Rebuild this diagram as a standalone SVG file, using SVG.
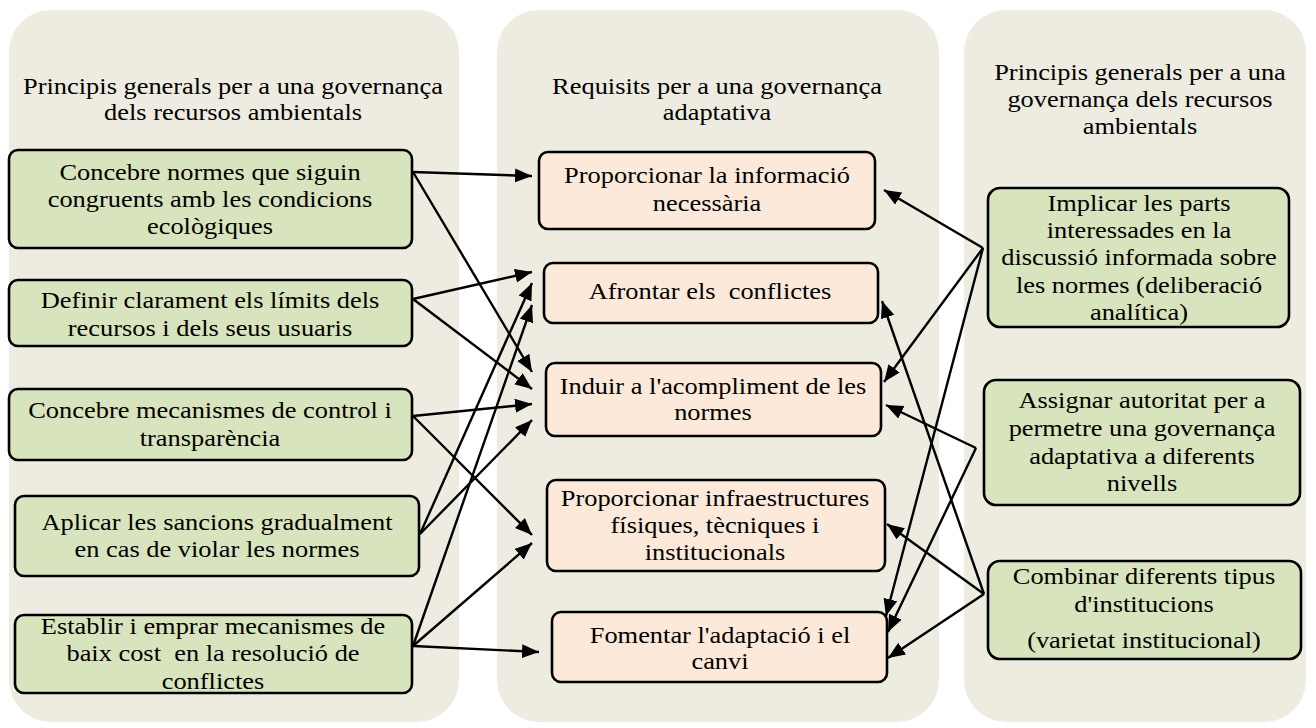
<svg xmlns="http://www.w3.org/2000/svg" width="1316" height="728" viewBox="0 0 1316 728" font-family="'Liberation Serif', serif">
<style>
.panel{fill:#EEECE1;stroke:none}
.g{fill:#D7E4BD;stroke:#000;stroke-width:2.6}
.p{fill:#FDE9D9;stroke:#000;stroke-width:2.6}
text{font-family:"Liberation Serif",serif;font-size:24px;fill:#000;text-anchor:middle}
.c line{stroke:#000;stroke-width:2.4;marker-end:url(#ah)}
</style>
<defs>
<marker id="ah" markerUnits="userSpaceOnUse" markerWidth="18" markerHeight="15" refX="17" refY="7" orient="auto">
<path d="M0,0 L17,7 L0,14 z" fill="#000"/>
</marker>
</defs>
<rect width="1316" height="728" fill="#fff"/>
<g id="panel-left"><rect class="panel" x="9" y="10" width="450" height="712" rx="42"/>
<text transform="translate(233 0) scale(1.1 1)" y="94">Principis generals per a una governança</text>
<text transform="translate(233 0) scale(1.1 1)" y="120">dels recursos ambientals</text></g>
<g id="panel-mid"><rect class="panel" x="497" y="10" width="442" height="712" rx="42"/>
<text transform="translate(717 0) scale(1.1 1)" y="94">Requisits per a una governança</text>
<text transform="translate(717 0) scale(1.1 1)" y="120">adaptativa</text></g>
<g id="panel-right"><rect class="panel" x="964" y="10" width="342" height="712" rx="42"/>
<text transform="translate(1140 0) scale(1.1 1)" y="80">Principis generals per a una</text>
<text transform="translate(1140 0) scale(1.1 1)" y="107">governança dels recursos</text>
<text transform="translate(1140 0) scale(1.1 1)" y="134">ambientals</text></g>

<g id="L1"><rect class="g" x="9" y="150" width="403" height="98" rx="9"/>
<text transform="translate(210 0) scale(1.1 1)" y="180">Concebre normes que siguin</text>
<text transform="translate(210 0) scale(1.1 1)" y="207">congruents amb les condicions</text>
<text transform="translate(210 0) scale(1.1 1)" y="234">ecològiques</text></g>
<g id="L2"><rect class="g" x="9" y="280" width="403" height="66" rx="9"/>
<text transform="translate(210 0) scale(1.1 1)" y="308">Definir clarament els límits dels</text>
<text transform="translate(210 0) scale(1.1 1)" y="336">recursos i dels seus usuaris</text></g>
<g id="L3"><rect class="g" x="9" y="389" width="403" height="71" rx="9"/>
<text transform="translate(210 0) scale(1.1 1)" y="418">Concebre mecanismes de control i</text>
<text transform="translate(210 0) scale(1.1 1)" y="446">transparència</text></g>
<g id="L4"><rect class="g" x="15" y="496" width="404" height="80" rx="9"/>
<text transform="translate(217 0) scale(1.1 1)" y="530">Aplicar les sancions gradualment</text>
<text transform="translate(217 0) scale(1.1 1)" y="557">en cas de violar les normes</text></g>
<g id="L5"><rect class="g" x="15" y="615" width="397" height="78" rx="9"/>
<text transform="translate(213 0) scale(1.1 1)" y="634">Establir i emprar mecanismes de</text>
<text transform="translate(213 0) scale(1.1 1)" y="661" xml:space="preserve">baix cost  en la resolució de</text>
<text transform="translate(213 0) scale(1.1 1)" y="689">conflictes</text></g>

<g id="M1"><rect class="p" x="539" y="152" width="336" height="77" rx="9"/>
<text transform="translate(707 0) scale(1.1 1)" y="183">Proporcionar la informació</text>
<text transform="translate(707 0) scale(1.1 1)" y="211">necessària</text></g>
<g id="M2"><rect class="p" x="544" y="263" width="334" height="60" rx="9"/>
<text transform="translate(710 0) scale(1.1 1)" y="299" xml:space="preserve">Afrontar els  conflictes</text></g>
<g id="M3"><rect class="p" x="546" y="363" width="335" height="73" rx="9"/>
<text transform="translate(713 0) scale(1.1 1)" y="394">Induir a l'acompliment de les</text>
<text transform="translate(713 0) scale(1.1 1)" y="420">normes</text></g>
<g id="M4"><rect class="p" x="547" y="480" width="338" height="91" rx="9"/>
<text transform="translate(715 0) scale(1.1 1)" y="506">Proporcionar infraestructures</text>
<text transform="translate(715 0) scale(1.1 1)" y="533">físiques, tècniques i</text>
<text transform="translate(715 0) scale(1.1 1)" y="560">institucionals</text></g>
<g id="M5"><rect class="p" x="552" y="612" width="335" height="70" rx="9"/>
<text transform="translate(720 0) scale(1.1 1)" y="643">Fomentar l'adaptació i el</text>
<text transform="translate(720 0) scale(1.1 1)" y="669">canvi</text></g>

<g id="R1"><rect class="g" x="988" y="188" width="301" height="139" rx="12"/>
<text transform="translate(1139 0) scale(1.1 1)" y="211">Implicar les parts</text>
<text transform="translate(1139 0) scale(1.1 1)" y="238">interessades en la</text>
<text transform="translate(1139 0) scale(1.1 1)" y="265">discussió informada sobre</text>
<text transform="translate(1139 0) scale(1.1 1)" y="293">les normes (deliberació</text>
<text transform="translate(1139 0) scale(1.1 1)" y="320">analítica)</text></g>
<g id="R2"><rect class="g" x="984" y="380" width="316" height="125" rx="12"/>
<text transform="translate(1142 0) scale(1.1 1)" y="408">Assignar autoritat per a</text>
<text transform="translate(1142 0) scale(1.1 1)" y="436">permetre una governança</text>
<text transform="translate(1142 0) scale(1.1 1)" y="464">adaptativa a diferents</text>
<text transform="translate(1142 0) scale(1.1 1)" y="491">nivells</text></g>
<g id="R3"><rect class="g" x="988" y="561" width="313" height="98" rx="12"/>
<text transform="translate(1144 0) scale(1.1 1)" y="584">Combinar diferents tipus</text>
<text transform="translate(1144 0) scale(1.1 1)" y="612">d'institucions</text>
<text transform="translate(1144 0) scale(1.1 1)" y="648">(varietat institucional)</text></g>

<g id="connectors" class="c">
<line x1="413" y1="172" x2="532" y2="176"/>
<line x1="413" y1="172" x2="532" y2="372"/>
<line x1="413" y1="299" x2="532" y2="272"/>
<line x1="413" y1="299" x2="532" y2="389"/>
<line x1="413" y1="416" x2="532" y2="404"/>
<line x1="413" y1="416" x2="532" y2="535"/>
<line x1="420" y1="534" x2="532" y2="283"/>
<line x1="420" y1="534" x2="532" y2="420"/>
<line x1="413" y1="646" x2="532" y2="305"/>
<line x1="413" y1="646" x2="532" y2="543"/>
<line x1="413" y1="646" x2="539" y2="652"/>
<line x1="983" y1="248" x2="884" y2="190"/>
<line x1="983" y1="248" x2="884" y2="382"/>
<line x1="983" y1="248" x2="886" y2="616"/>
<line x1="976" y1="448" x2="886" y2="405"/>
<line x1="976" y1="448" x2="888" y2="632"/>
<line x1="984" y1="594" x2="882" y2="301"/>
<line x1="984" y1="594" x2="887" y2="524"/>
<line x1="984" y1="594" x2="888" y2="658"/>
</g>
</svg>
